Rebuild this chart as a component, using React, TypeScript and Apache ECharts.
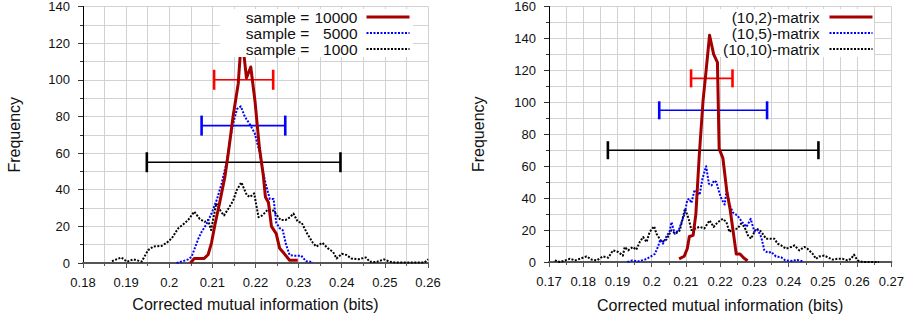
import React, { useEffect, useRef } from 'react';
import * as echarts from 'echarts';

// ---------- Left panel data ----------
const leftNames = ['sample = 10000', 'sample = 5000', 'sample = 1000'];

const left10000X = [0.2049, 0.2058, 0.2081, 0.2090, 0.2098, 0.2106, 0.2117, 0.2129, 0.2137, 0.2148, 0.2160, 0.2168, 0.2179, 0.2189, 0.2199, 0.2209, 0.2218, 0.2223, 0.2230, 0.2237, 0.2248, 0.2256, 0.2267, 0.2279, 0.2298];
const left10000Y = [0, 2.5, 2.5, 4.5, 11, 21, 33, 47, 60, 80, 98, 125, 101, 107, 88, 63, 48, 36, 33, 20, 16, 8, 5, 1.5, 1.5];

const left5000X = [0.2017, 0.2032, 0.2044, 0.2052, 0.2059, 0.2067, 0.2075, 0.2086, 0.2098, 0.2111, 0.2121, 0.2133, 0.2140, 0.2148, 0.2157, 0.2166, 0.2175, 0.2186, 0.2198, 0.2210, 0.2217, 0.2225, 0.2233, 0.2242, 0.2248, 0.2256, 0.2263, 0.2271, 0.2279, 0.2287, 0.2306, 0.2317, 0.2333];
const left5000Y = [0, 1, 2, 3.5, 8, 13, 17, 21, 27, 35, 43, 55, 66, 76, 84, 85.5, 80, 76, 71, 60, 50, 42, 35, 35, 22, 19, 18, 10, 4.4, 4, 4, 1, 0.5];

const left1000X = [0.1867, 0.1889, 0.1902, 0.1917, 0.1936, 0.1951, 0.1963, 0.1982, 0.1994, 0.2006, 0.2021, 0.2032, 0.2044, 0.2058, 0.2071, 0.2082, 0.2090, 0.2097, 0.2109, 0.2120, 0.2127, 0.2138, 0.2148, 0.2157, 0.2167, 0.2180, 0.2187, 0.2197, 0.2207, 0.2216, 0.2228, 0.2242, 0.2250, 0.2258, 0.2270, 0.2280, 0.2288, 0.2298, 0.2307, 0.2320, 0.2333, 0.2341, 0.2355, 0.2368, 0.2380, 0.2388, 0.2400, 0.2411, 0.2422, 0.2438, 0.2456, 0.2465, 0.2480, 0.2498, 0.2511, 0.2525, 0.2592, 0.2600];
const left1000Y = [1, 3, 0.7, 2, 0.8, 7, 9, 9.3, 11, 13.5, 19, 21, 23.5, 28, 24, 22.5, 23.5, 18, 32.5, 28, 26, 30, 34, 40, 44, 37, 36, 38, 25, 26, 29, 28.5, 26, 23.5, 23.5, 25, 27, 22.5, 22, 16, 11, 9, 11, 8, 6, 2.5, 5, 4.4, 2.5, 2, 3, 0.7, 0.5, 2, 0.7, 0.3, 0.3, 2];

// error bars: [low, high] at a frequency level
const leftErrLow = [0.2104, 0.2075, 0.1948];
const leftErrHigh = [0.2241, 0.2269, 0.2397];
const leftErrY = [100, 75, 55];

// ---------- Right panel data ----------
const rightNames = ['(10,2)-matrix', '(10,5)-matrix', '(10,10)-matrix'];

const right2X = [0.2080, 0.2095, 0.2104, 0.2110, 0.2121, 0.2129, 0.2139, 0.2150, 0.2158, 0.2169, 0.2181, 0.2192, 0.2197, 0.2208, 0.2219, 0.2229, 0.2238, 0.2247, 0.2258, 0.2269, 0.2280];
const right2Y = [2, 3.6, 8.5, 16, 16.7, 30, 67, 101, 118, 142, 130, 125, 71, 65, 45, 33, 19, 5, 5, 2.5, 0.8];

const right5X = [0.1929, 0.1943, 0.1960, 0.1980, 0.1994, 0.2009, 0.2018, 0.2025, 0.2033, 0.2043, 0.2052, 0.2058, 0.2067, 0.2079, 0.2089, 0.2096, 0.2104, 0.2110, 0.2116, 0.2125, 0.2134, 0.2140, 0.2148, 0.2159, 0.2167, 0.2175, 0.2182, 0.2189, 0.2198, 0.2205, 0.2213, 0.2219, 0.2227, 0.2237, 0.2251, 0.2264, 0.2277, 0.2289, 0.2300, 0.2310, 0.2320, 0.2329, 0.2339, 0.2349, 0.2363, 0.2378, 0.2390, 0.2412, 0.2422, 0.2441];
const right5Y = [0, 1, 0.4, 1.5, 3, 5, 9.4, 14, 11.5, 16, 19, 25, 17.7, 20, 26, 30, 39, 39.6, 37, 45, 44, 42, 52, 60, 49, 48, 51, 50, 43, 39, 36, 45, 36, 31, 29, 25, 22, 27, 19, 20, 15.6, 7.3, 5.8, 6.3, 3.5, 3, 1, 0.6, 1.5, 0.4];

const right10X = [0.1717, 0.1732, 0.1747, 0.1761, 0.1776, 0.1790, 0.1810, 0.1824, 0.1839, 0.1858, 0.1873, 0.1887, 0.1902, 0.1916, 0.1921, 0.1931, 0.1945, 0.1955, 0.1965, 0.1975, 0.1985, 0.1994, 0.2007, 0.2014, 0.2023, 0.2030, 0.2043, 0.2057, 0.2070, 0.2082, 0.2088, 0.2097, 0.2103, 0.2108, 0.2116, 0.2127, 0.2140, 0.2154, 0.2169, 0.2181, 0.2193, 0.2208, 0.2218, 0.2227, 0.2237, 0.2251, 0.2261, 0.2271, 0.2281, 0.2290, 0.2305, 0.2315, 0.2324, 0.2334, 0.2344, 0.2358, 0.2368, 0.2378, 0.2392, 0.2407, 0.2417, 0.2431, 0.2446, 0.2455, 0.2470, 0.2480, 0.2489, 0.2504, 0.2514, 0.2528, 0.2543, 0.2557, 0.2572, 0.2582, 0.2591, 0.2601, 0.2616, 0.2664];
const right10Y = [1, 0, 1, 2, 1, 2, 3.5, 1.5, 1, 3.5, 2.7, 7.3, 6.3, 4, 9.4, 7.3, 9.4, 7.7, 12.5, 15.6, 12.5, 18.8, 22.3, 17.7, 14.6, 12.5, 14, 19.8, 17.7, 19.8, 25, 33.4, 30, 27, 20, 21, 22, 21, 26, 22, 25, 27, 25, 18.8, 20.9, 20.9, 24, 22, 16.7, 14.6, 20.9, 20, 17.7, 14.6, 14.6, 14.6, 11.5, 10.4, 8.3, 9.4, 10.4, 7.3, 9.4, 8.3, 5.2, 2, 3.5, 4, 3, 1.5, 2, 2, 1, 2, 4.6, 1, 0, 0];

const rightErrLow = [0.2115, 0.2022, 0.1872];
const rightErrHigh = [0.2236, 0.2337, 0.2487];
const rightErrY = [115, 95, 70];

// ---------- styles ----------
const FONT = "'Liberation Sans', Arial, Helvetica, sans-serif";
const DARK_RED = '#a40000';
const BLUE = '#0000ff';
const BLACK = '#000000';
const ERR_COLORS = ['#ff0000', '#0000ff', '#000000'];
const GRID_COLOR = '#d2d2d2';
const TEXT_COLOR = '#111111';
const NO_SYMBOL = { color: 'rgba(0,0,0,0)', borderColor: 'rgba(0,0,0,0)', borderWidth: 0, opacity: 0 };

const pairs = (xs: number[], ys: number[]) => xs.map((x, i) => [x, ys[i]]);

function errorBars(idx: number, lows: number[], highs: number[], ys: number[], cap: number) {
  return {
    type: 'custom',
    xAxisIndex: idx,
    yAxisIndex: idx,
    silent: true,
    clip: false,
    data: lows.map((lo, i) => [lo, highs[i], ys[i]]),
    encode: { x: [0, 1], y: 2 },
    renderItem: (params: any, api: any) => {
      const a = api.coord([api.value(0), api.value(2)]);
      const b = api.coord([api.value(1), api.value(2)]);
      const c = ERR_COLORS[params.dataIndex];
      return {
        type: 'group',
        children: [
          { type: 'line', shape: { x1: a[0], y1: a[1], x2: b[0], y2: b[1] }, style: { stroke: c, lineWidth: 1.6 } },
          { type: 'line', shape: { x1: a[0], y1: a[1] - cap, x2: a[0], y2: a[1] + cap }, style: { stroke: c, lineWidth: 2.6 } },
          { type: 'line', shape: { x1: b[0], y1: b[1] - cap, x2: b[0], y2: b[1] + cap }, style: { stroke: c, lineWidth: 2.6 } },
        ],
      };
    },
  };
}

function lineSeries(idx: number, name: string, data: number[][], color: string, width: number, dotted: boolean) {
  return {
    type: 'line',
    name,
    xAxisIndex: idx,
    yAxisIndex: idx,
    data,
    symbol: 'none',
    showSymbol: false,
    silent: true,
    itemStyle: { color },
    lineStyle: { color, width, type: dotted ? [2, 1.5] : 'solid', cap: 'butt', join: 'round' },
  };
}

function xAxis(idx: number, min: number, max: number, gap: number) {
  return {
    type: 'value',
    gridIndex: idx,
    min,
    max,
    interval: 0.01,
    name: 'Corrected mutual information (bits)',
    nameLocation: 'middle',
    nameGap: gap,
    nameTextStyle: { fontSize: 16, fontFamily: FONT, color: TEXT_COLOR },
    axisLine: { show: true, onZero: false, lineStyle: { color: '#555555', width: 2 } },
    axisTick: { show: true, length: 5, lineStyle: { color: '#555555', width: 1 } },
    minorTick: { show: true, splitNumber: 2, length: 3, lineStyle: { color: '#555555', width: 1 } },
    axisLabel: { fontSize: 13, fontFamily: FONT, color: TEXT_COLOR, margin: 13, showMinLabel: true, showMaxLabel: true },
    splitLine: { show: true, lineStyle: { color: GRID_COLOR, width: 1 } },
    minorSplitLine: { show: true, lineStyle: { color: GRID_COLOR, width: 1 } },
  };
}

function yAxis(idx: number, max: number, gap: number) {
  return {
    type: 'value',
    gridIndex: idx,
    min: 0,
    max,
    interval: 20,
    name: 'Frequency',
    nameLocation: 'middle',
    nameGap: gap,
    nameTextStyle: { fontSize: 16, fontFamily: FONT, color: TEXT_COLOR },
    axisLine: { show: true, onZero: false, lineStyle: { color: '#000000', width: 1 } },
    axisTick: { show: true, length: 5, lineStyle: { color: '#333333', width: 1 } },
    minorTick: { show: true, splitNumber: 2, length: 3, lineStyle: { color: '#333333', width: 1 } },
    axisLabel: { fontSize: 13, fontFamily: FONT, color: TEXT_COLOR, margin: 13, showMinLabel: true, showMaxLabel: true },
    splitLine: { show: true, lineStyle: { color: GRID_COLOR, width: 1 } },
    minorSplitLine: { show: true, lineStyle: { color: GRID_COLOR, width: 1 } },
  };
}

const legendText = { fontSize: 15.5, fontFamily: FONT, color: TEXT_COLOR, lineHeight: 16 };

export default function App() {
  const ref = useRef<HTMLDivElement>(null);
  useEffect(() => {
    if (!ref.current) return;
    const chart = echarts.init(ref.current, null, { renderer: 'svg' });
    chart.setOption({
      animation: false,
      backgroundColor: '#ffffff',
      grid: [
        { left: 83, top: 6, width: 345, height: 257, containLabel: false },
        { left: 549, top: 6, width: 343, height: 256, containLabel: false },
      ],
      xAxis: [xAxis(0, 0.18, 0.26, 33), xAxis(1, 0.17, 0.27, 35)],
      yAxis: [yAxis(0, 140, 61), yAxis(1, 160, 63)],
      legend: [
        {
          data: [
            { name: leftNames[0], lineStyle: { width: 3 }, itemStyle: NO_SYMBOL },
            { name: leftNames[1], lineStyle: { width: 2 }, itemStyle: NO_SYMBOL },
            { name: leftNames[2], lineStyle: { width: 2 }, itemStyle: NO_SYMBOL },
          ],
          orient: 'vertical',
          align: 'right',
          right: 907 - 413,
          top: 9,
          itemWidth: 43,
          itemHeight: 16,
          itemGap: 0,
          padding: [0, 2, 0, 26],
          backgroundColor: '#ffffff',
          selectedMode: false,
          itemStyle: NO_SYMBOL,
          formatter: (name: string) => {
            const parts = name.split('= ');
            return `{l|${parts[0]}= }{r|${parts[1]}}`;
          },
          textStyle: {
            ...legendText,
            rich: {
              l: { ...legendText },
              r: { ...legendText, width: 44, align: 'right', padding: [0, 4, 0, 0] },
            },
          },
        },
        {
          data: [
            { name: rightNames[0], lineStyle: { width: 3 }, itemStyle: NO_SYMBOL },
            { name: rightNames[1], lineStyle: { width: 2 }, itemStyle: NO_SYMBOL },
            { name: rightNames[2], lineStyle: { width: 2 }, itemStyle: NO_SYMBOL },
          ],
          orient: 'vertical',
          align: 'right',
          right: 907 - 874,
          top: 9,
          itemWidth: 43,
          itemHeight: 16,
          itemGap: 0,
          padding: [0, 0, 0, 3],
          backgroundColor: '#ffffff',
          selectedMode: false,
          itemStyle: NO_SYMBOL,
          formatter: (name: string) => `{r|${name}}`,
          textStyle: {
            ...legendText,
            rich: { r: { ...legendText, padding: [0, 5, 0, 0] } },
          },
        },
      ],
      series: [
        errorBars(0, leftErrLow, leftErrHigh, leftErrY, 10),
        lineSeries(0, leftNames[2], pairs(left1000X, left1000Y), BLACK, 2, true),
        lineSeries(0, leftNames[1], pairs(left5000X, left5000Y), BLUE, 2, true),
        lineSeries(0, leftNames[0], pairs(left10000X, left10000Y), DARK_RED, 3, false),
        errorBars(1, rightErrLow, rightErrHigh, rightErrY, 9),
        lineSeries(1, rightNames[2], pairs(right10X, right10Y), BLACK, 2, true),
        lineSeries(1, rightNames[1], pairs(right5X, right5Y), BLUE, 2, true),
        lineSeries(1, rightNames[0], pairs(right2X, right2Y), DARK_RED, 3, false),
      ],
    });
    return () => chart.dispose();
  }, []);
  return <div ref={ref} style={{ position: 'absolute', left: 0, top: 0, width: 907, height: 322 }} />;
}
